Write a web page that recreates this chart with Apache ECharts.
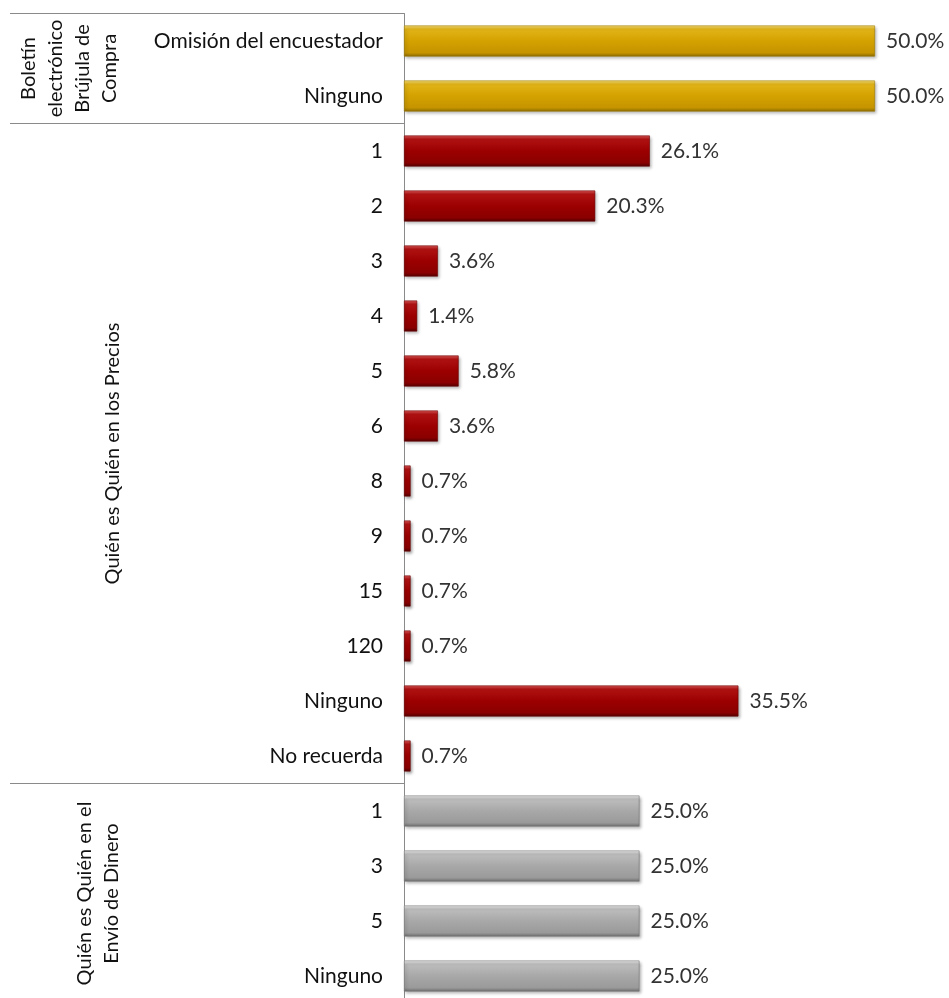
<!DOCTYPE html>
<html>
<head>
<meta charset="utf-8">
<script src="https://cdn.jsdelivr.net/npm/echarts@6/dist/echarts.min.js"></script>
<style>html,body{margin:0;padding:0;background:#fff;}#c{width:949px;height:998px;}</style>
</head>
<body>
<div id="c"></div>
<script>
const groupNames = ['Boletín\nelectrónico\nBrújula de\nCompra', 'Quién es Quién en los Precios', 'Quién es Quién en el\nEnvío de Dinero'];
const catsBoletin = ['Omisión del encuestador', 'Ninguno'];
const valsBoletin = [50.0, 50.0];
const catsPrecios = ['1', '2', '3', '4', '5', '6', '8', '9', '15', '120', 'Ninguno', 'No recuerda'];
const valsPrecios = [26.1, 20.3, 3.6, 1.4, 5.8, 3.6, 0.7, 0.7, 0.7, 0.7, 35.5, 0.7];
const catsEnvio = ['1', '3', '5', 'Ninguno'];
const valsEnvio = [25.0, 25.0, 25.0, 25.0];

const FONT = 'Lato, "Open Sans", sans-serif';
function grad(c0, c1, c2, c3, c4) {
  return new echarts.graphic.LinearGradient(0, 0, 0, 1, [
    {offset: 0, color: c0}, {offset: 0.12, color: c1}, {offset: 0.5, color: c2},
    {offset: 0.88, color: c3}, {offset: 1, color: c4}]);
}
const styles = [
  {color: grad('#FBE27A', '#E2B418', '#D4A200', '#C59400', '#8C6A00'), borderColor: '#9C7A00'},
  {color: grad('#E25A5A', '#B01212', '#9C0000', '#8A0000', '#520000'), borderColor: '#6A0000'},
  {color: grad('#EEEEEE', '#BDBDBD', '#A8A8A8', '#9A9A9A', '#6C6C6C'), borderColor: '#7A7A7A'}
];
const groupCats = [catsBoletin, catsPrecios, catsEnvio];
const groupVals = [valsBoletin, valsPrecios, valsEnvio];

const labels = [], keys = [], data = [], groupStart = [];
groupCats.forEach((cats, g) => {
  groupStart.push(keys.length);
  cats.forEach((c, i) => {
    keys.push('k' + keys.length);
    labels.push(c);
    data.push({value: groupVals[g][i], itemStyle: {
      color: styles[g].color, borderColor: styles[g].borderColor, borderWidth: 0.6,
      shadowColor: 'rgba(0,0,0,0.35)', shadowBlur: 3, shadowOffsetX: 1.5, shadowOffsetY: 2}});
  });
});

const chart = echarts.init(document.getElementById('c'), null, {renderer: 'canvas'});
chart.setOption({
  backgroundColor: '#ffffff',
  animation: false,
  grid: {left: 404, right: 74, top: 13.5, height: 990, containLabel: false, outerBoundsMode: 'none'},
  xAxis: {type: 'value', min: 0, max: 50, show: false},
  yAxis: {
    type: 'category', data: keys, inverse: true,
    axisLine: {show: true, lineStyle: {color: '#8a8a8a', width: 1}},
    axisTick: {show: false},
    axisLabel: {formatter: (v, i) => labels[i], color: '#111', fontFamily: FONT, fontSize: 21, margin: 21}
  },
  series: [{
    type: 'bar', data: data, barWidth: 31,
    label: {show: true, position: 'right', distance: 11, color: '#333', fontFamily: FONT, fontSize: 21,
      formatter: p => p.value.toFixed(1) + '%'}
  }]
});

const c0 = chart.convertToPixel({yAxisIndex: 0}, keys[0]);
const c1 = chart.convertToPixel({yAxisIndex: 0}, keys[1]);
const band = c1 - c0;
const axisX = chart.convertToPixel({xAxisIndex: 0}, 0);
const edge = idx => chart.convertToPixel({yAxisIndex: 0}, keys[idx]) - band / 2;
const bounds = [edge(groupStart[0]), edge(groupStart[1]), edge(groupStart[2]), edge(keys.length - 1) + band];
const g = [];
[0, 1, 2].forEach(i => {
  g.push({type: 'line', shape: {x1: 10, y1: bounds[i], x2: axisX, y2: bounds[i]}, style: {stroke: '#8a8a8a', lineWidth: 1}});
});
const gx = [69, 113, 98];
groupNames.forEach((t, i) => {
  g.push({type: 'text', x: gx[i], y: (bounds[i] + bounds[i + 1]) / 2, rotation: Math.PI / 2,
    style: {text: t, fill: '#111', font: '20px ' + FONT, align: 'center', verticalAlign: 'middle', lineHeight: 27}});
});
chart.setOption({graphic: g});
</script>
</body>
</html>
